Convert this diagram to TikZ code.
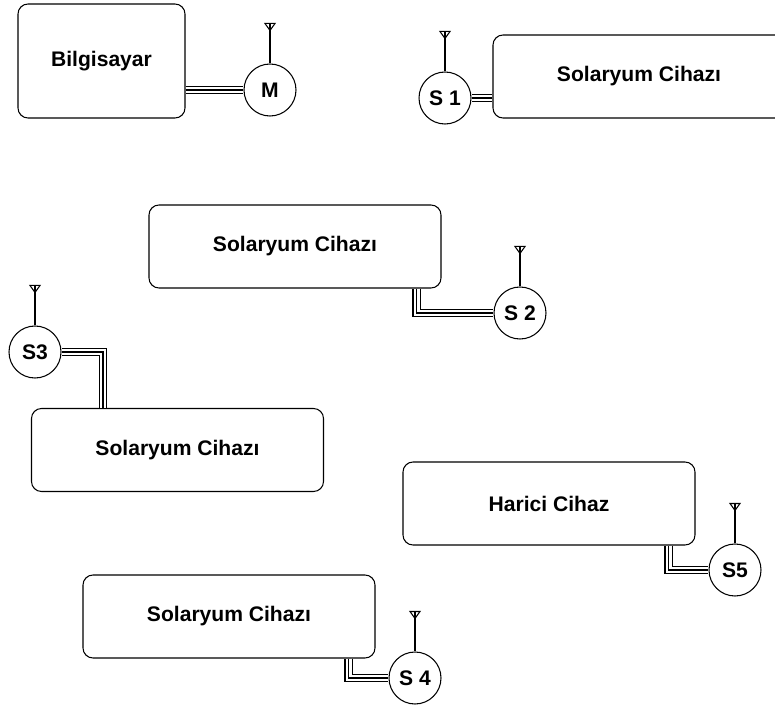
\documentclass[tikz,border=0pt]{standalone}
\usepackage{fontspec}
\setmainfont{Liberation Sans}
\usetikzlibrary{positioning}
\tikzstyle{cihaz} = [rectangle, draw, line width=0.6pt, rounded corners=0.2cm, minimum width=5.84cm, minimum height=1.66cm, font=\bfseries\fontsize{12}{14}\selectfont]
\tikzstyle{modem} = [circle, draw, line width=0.6pt, fill=white, minimum size=1.04cm, inner sep=0pt, font=\bfseries\fontsize{12}{14}\selectfont]
\tikzstyle{cable} = [draw, line width=0.6pt, line join=miter, preaction={draw, double, double distance=3.4pt}]

\begin{document}
\begin{tikzpicture}
        \path[use as bounding box, fill=white] (0,0) rectangle (15.5,-14.18);

        \node[cihaz, minimum width=3.34cm, minimum height=2.28cm] (bilg) at (2.03,-1.22) {Bilgisayar};
        \node[cihaz]                (sol1) at (12.78,-1.53) {Solaryum Cihazı};
        \node[cihaz]                (sol2) at (5.90,-4.93)  {Solaryum Cihazı};
        \node[cihaz]                (sol3) at (3.55,-9.00)  {Solaryum Cihazı};
        \node[cihaz]                (hari) at (10.98,-10.07) {Harici Cihaz};
        \node[cihaz]                (sol4) at (4.58,-12.33) {Solaryum Cihazı};

        \node[modem]                (m)  at (5.40,-1.80)  {M};
        \node[modem]                (s1) at (8.90,-1.96)  {S 1};
        \node[modem]                (s2) at (10.40,-6.26) {S 2};
        \node[modem]                (s3) at (0.70,-7.04)  {S3};
        \node[modem]                (s4) at (8.30,-13.56) {S 4};
        \node[modem]                (s5) at (14.70,-11.40) {S5};

        % antennas
        \foreach \s in {m,s1,s2,s3,s4,s5}{
          \draw[line width=0.6pt] (\s.north) -- ++(0,0.8) coordinate (\s-top);
          \draw[line width=0.6pt] (\s-top) ++(-0.1,0) -- ++(0.2,0) -- ++(-0.1,-0.14) -- cycle;
        }

        % cables
        \path[cable] (bilg.east |- m.west) -- (m.west);
        \path[cable] (s1.east) -- (s1.east -| sol1.west);
        \path[cable] ([xshift=-0.5cm]sol2.south east) |- (s2.west);
        \path[cable] (s3.east) -| ([xshift=1.44cm]sol3.north west);
        \path[cable] ([xshift=-0.54cm]hari.south east) |- (s5.west);
        \path[cable] ([xshift=-0.54cm]sol4.south east) |- (s4.west);
\end{tikzpicture}
\end{document}
